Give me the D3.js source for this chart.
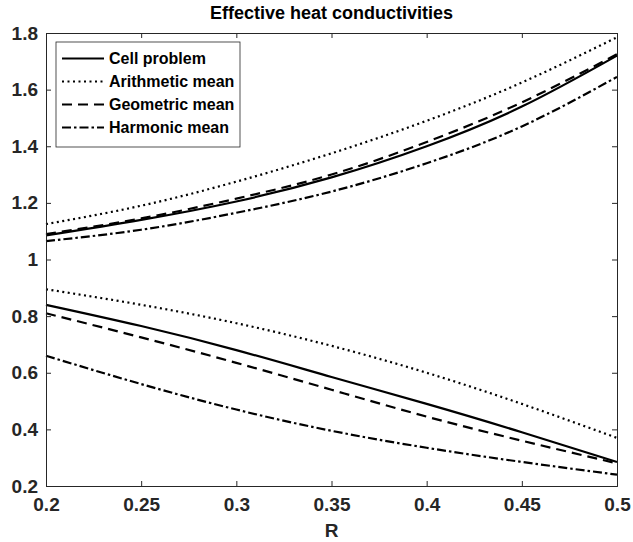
<!DOCTYPE html>
<html><head><meta charset="utf-8">
<script src="https://cdn.jsdelivr.net/npm/d3@7"></script>
<style>body{margin:0;background:#fff}svg{display:block}text{font-family:"Liberation Sans",Arial,sans-serif;font-weight:bold}</style>
</head><body><svg id="c" width="633" height="542"></svg>
<script>
const R = [0.2, 0.25, 0.3, 0.35, 0.4, 0.45, 0.5];
const cellUpper = [1.085, 1.14, 1.205, 1.29, 1.40, 1.54, 1.72];
const arithUpper = [1.125, 1.19, 1.275, 1.375, 1.49, 1.625, 1.785];
const geomUpper = [1.09, 1.145, 1.215, 1.30, 1.415, 1.555, 1.725];
const harmUpper = [1.065, 1.105, 1.165, 1.24, 1.34, 1.47, 1.645];
const cellLower = [0.84, 0.765, 0.68, 0.585, 0.49, 0.39, 0.285];
const arithLower = [0.895, 0.84, 0.775, 0.695, 0.60, 0.49, 0.37];
const geomLower = [0.81, 0.725, 0.635, 0.54, 0.445, 0.36, 0.28];
const harmLower = [0.66, 0.56, 0.47, 0.395, 0.335, 0.285, 0.24];
const xTicks = [0.2, 0.25, 0.3, 0.35, 0.4, 0.45, 0.5];
const yTicks = [0.2, 0.4, 0.6, 0.8, 1.0, 1.2, 1.4, 1.6, 1.8];
const legendLabels = ["Cell problem", "Arithmetic mean", "Geometric mean", "Harmonic mean"];

const styles = ["", "2,3.5", "10,6", "9,3,2.5,3"];
const series = [
  {name: legendLabels[0], s: 0, data: [cellUpper, cellLower]},
  {name: legendLabels[1], s: 1, data: [arithUpper, arithLower]},
  {name: legendLabels[2], s: 2, data: [geomUpper, geomLower]},
  {name: legendLabels[3], s: 3, data: [harmUpper, harmLower]}
];

const L = 46, Rt = 617, T = 33, B = 486;
const svg = d3.select("#c");
const x = d3.scaleLinear().domain([0.2, 0.5]).range([L, Rt]);
const y = d3.scaleLinear().domain([0.2, 1.8]).range([B, T]);
const ax = "#262626";

const line = d3.line().x((d, i) => x(R[i])).y(d => y(d)).curve(d3.curveNatural);
const g = svg.append("g");
series.forEach(se => {
  se.data.forEach(arr => {
    g.append("path").attr("d", line(arr)).attr("fill", "none")
      .attr("stroke", "#000").attr("stroke-width", 2.2)
      .attr("stroke-dasharray", styles[se.s] || null);
  });
});

const fmt = d => d3.format("")(+d.toFixed(2));
const xb = svg.append("g").attr("transform", `translate(0,${B})`)
  .call(d3.axisBottom(x).tickValues(xTicks).tickSize(-5).tickPadding(12).tickFormat(fmt));
const xt = svg.append("g").attr("transform", `translate(0,${T})`)
  .call(d3.axisTop(x).tickValues(xTicks).tickSize(-5).tickFormat(""));
const yl = svg.append("g").attr("transform", `translate(${L},0)`)
  .call(d3.axisLeft(y).tickValues(yTicks).tickSize(-5).tickPadding(8).tickFormat(fmt));
const yr = svg.append("g").attr("transform", `translate(${Rt},0)`)
  .call(d3.axisRight(y).tickValues(yTicks).tickSize(-5).tickFormat(""));
[xb, xt, yl, yr].forEach(a => {
  a.selectAll(".domain").attr("stroke", ax).attr("stroke-width", 1);
  a.selectAll(".tick line").attr("stroke", ax).attr("stroke-width", 1);
  a.selectAll("text").attr("fill", ax).style("font-size", "19px").style("font-weight", "bold")
    .style("font-family", '"Liberation Sans",Arial,sans-serif');
});

svg.append("text").attr("x", (L + Rt) / 2).attr("y", 19).attr("text-anchor", "middle")
  .style("font-size", "18px").attr("fill", "#000").text("Effective heat conductivities");
svg.append("text").attr("x", (L + Rt) / 2).attr("y", 537).attr("text-anchor", "middle")
  .style("font-size", "19px").attr("fill", ax).text("R");

const lg = svg.append("g");
lg.append("rect").attr("x", 56).attr("y", 42).attr("width", 184).attr("height", 105)
  .attr("fill", "#fff").attr("stroke", ax).attr("stroke-width", 0.8);
series.forEach((se, i) => {
  const yy = 58.5 + i * 23;
  lg.append("line").attr("x1", 62).attr("x2", 104).attr("y1", yy).attr("y2", yy)
    .attr("stroke", "#000").attr("stroke-width", 2.2)
    .attr("stroke-dasharray", styles[se.s] || null);
  lg.append("text").attr("x", 109).attr("y", yy).attr("dy", "0.36em")
    .style("font-size", "16px").attr("fill", "#000").text(se.name);
});
</script></body></html>
